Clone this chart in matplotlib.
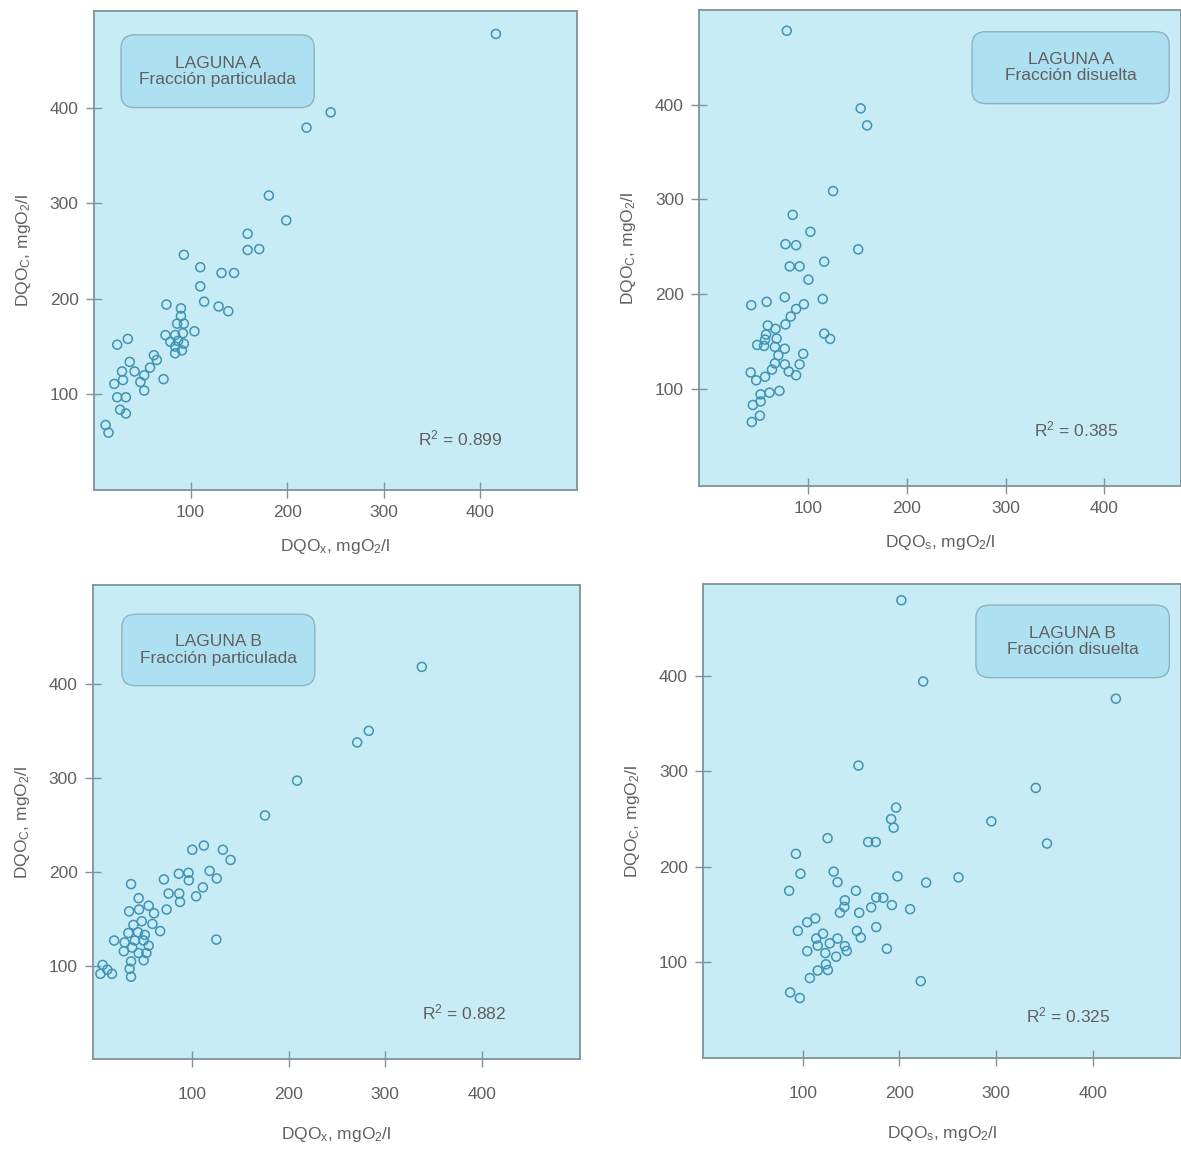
import matplotlib
matplotlib.use("Agg")
import matplotlib.pyplot as plt
from matplotlib.patches import FancyBboxPatch

plt.rcParams['font.family'] = ['Liberation Sans', 'DejaVu Sans']
plt.rcParams['mathtext.fontset'] = 'custom'
plt.rcParams['mathtext.rm'] = 'Liberation Sans'
plt.rcParams['mathtext.it'] = 'Liberation Sans'

# Laguna A - particulada (DQOx vs DQOc)
a_part_x = [416, 245, 220, 181, 199, 159, 159, 171, 93, 110, 132, 145, 110, 114, 129, 139,
            75, 90, 90, 86, 93, 74, 84, 92, 104, 79, 87, 93, 84, 91, 84,
            24, 35, 62, 65, 37, 29, 42, 52, 58, 48, 52, 72, 21, 30, 24, 33, 27, 33, 12, 15]
a_part_y = [477, 395, 379, 308, 282, 268, 251, 252, 246, 233, 227, 227, 213, 197, 192, 187,
            194, 190, 182, 174, 174, 162, 162, 164, 166, 155, 156, 153, 150, 146, 143,
            152, 158, 141, 136, 134, 124, 124, 120, 128, 113, 104, 116, 111, 115, 97, 97, 84, 80, 68, 60]

# Laguna A - disuelta (DQOs vs DQOc)
a_dis_x = [78, 153, 159.5, 125, 84, 102, 76.7, 87.5, 150.5, 116, 81, 91, 100, 76, 114.5,
           42, 57.6, 95.4, 87.5, 82, 76.7, 58.7, 66.6, 116, 122, 57, 56, 67.7, 48, 55, 66, 76,
           69.5, 94.7, 66, 76, 91, 63, 80, 87.5, 41.4, 47, 56, 51.5, 60.5, 70.6, 43.6, 51.5,
           50.8, 42.5]
a_dis_y = [478, 396, 378, 308.6, 283.5, 265.6, 252.5, 251.4, 247, 234, 229, 229, 215, 196.5, 194.6,
           188, 191.6, 189, 184, 176, 167.7, 166.6, 163, 158, 152.4, 157, 151.7, 152.8, 146, 145, 144, 142,
           135, 136.7, 126.6, 125.5, 125.5, 120, 118, 114, 117, 108.7, 112.4, 93.8, 95.6, 97.5, 82.6, 86.3,
           71.3, 64.6]

# Laguna B - particulada
b_part_x = [338, 283, 271, 208.7, 175.4, 112, 100, 131.7, 139.7, 118, 125.4, 70.6, 86, 96, 96.4,
            111, 104, 75.4, 86.5, 87.3, 73.4, 36.5, 44.4, 44.8, 34.5, 54.8, 60.3, 47.6, 39, 58.7,
            66.7, 33.7, 43.7, 50.8, 19, 29.8, 40.5, 49.6, 54.8, 37.7, 29, 44.4, 52.4, 36.5, 49.6,
            125, 35, 36.5, 7, 11.9, 4.8, 16.7]
b_part_y = [418, 350, 337.6, 297, 260, 228, 223.5, 223.5, 212.7, 201, 193, 192, 198, 199, 191,
            183.5, 174, 177, 177, 168, 160, 187, 172, 160, 158, 164, 156, 147.5, 143.6, 144.7,
            137, 135, 135.8, 133, 127, 125, 127, 127, 121.5, 119.5, 115.6, 113.7, 113.7, 104.8, 106,
            128, 97, 88.5, 101, 96, 91.6, 91.6]

# Laguna B - disuelta
b_dis_x = [202, 224.5, 423.7, 157.6, 340.9, 196.5, 191.4, 194, 295, 352.5, 125.7, 167.7, 175.5,
           93, 97.7, 86, 132, 136, 198, 227.6, 261, 155, 143.6, 143, 138.5, 158.4, 170.8, 176,
           183.3, 192.2, 211, 113, 104.7, 95, 176, 156, 160, 121, 114, 136, 128, 143.6, 115.5,
           104.7, 123.4, 134.6, 145.5, 187, 124, 126, 115.5, 107.4, 222, 87, 97]
b_dis_y = [479, 394, 376, 306, 282.6, 262, 250, 241, 247.6, 224.4, 230, 226, 226,
           213.6, 192.8, 175, 195, 184, 190, 183.5, 189, 175, 165, 158, 152, 152, 157.6, 168,
           167.6, 160, 155.7, 146, 142, 133, 137, 133, 126, 130, 125, 125, 120, 117, 117.6,
           111.8, 109.8, 106, 112, 114.3, 98, 92, 91.5, 83.6, 80.4, 68.6, 62.7]

xlabels = [r"DQO$_\mathrm{x}$, mgO$_\mathrm{2}$/l", r"DQO$_\mathrm{s}$, mgO$_\mathrm{2}$/l"]
ylabel = r"DQO$_\mathrm{C}$, mgO$_\mathrm{2}$/l"

BG = "#c8ecf6"
EDGE = "#7f9399"
MARK = "#3f93b3"
TXT = "#606060"

fig = plt.figure(figsize=(11.81, 11.56), dpi=100)

panels = [
    # rect, x, y, xlim, ylim, xlabel, title, box center, r2 text/pos, x tick pad, xlabel pad
    ([0.0796, 0.5761, 0.4090, 0.4144], a_part_x, a_part_y, (0, 500), (0, 501), xlabels[0],
     "LAGUNA A\nFracción particulada", (128, 438), "R$^2$ = 0.899", (379, 54), 5, 12),
    ([0.5919, 0.5796, 0.4081, 0.4118], a_dis_x, a_dis_y, (-11, 478), (-3, 500), xlabels[1],
     "LAGUNA A\nFracción disuelta", (366, 439), "R$^2$ = 0.385", (372, 57), 5, 12),
    ([0.0787, 0.0839, 0.4124, 0.4100], b_part_x, b_part_y, (-3, 502), (1, 505), xlabels[0],
     "LAGUNA B\nFracción particulada", (127, 436), "R$^2$ = 0.882", (382, 50), 14, 17),
    ([0.5953, 0.0848, 0.4047, 0.4100], b_dis_x, b_dis_y, (-3, 491), (0, 496), xlabels[1],
     "LAGUNA B\nFracción disuelta", (379, 436), "R$^2$ = 0.325", (374, 44), 14, 17),
]

for rect, xs, ys, xl, yl, xlab, title, bc, r2, r2pos, xpad, xlpad in panels:
    ax = fig.add_axes(rect)
    ax.set_facecolor(BG)
    ax.scatter(xs, ys, s=42, facecolors='none', edgecolors=MARK, linewidths=1.1, zorder=3)
    ax.set_xlim(*xl)
    ax.set_ylim(*yl)
    ax.set_xticks([100, 200, 300, 400])
    ax.set_yticks([100, 200, 300, 400])
    ax.tick_params(direction='inout', length=12, width=1, colors=EDGE,
                   labelcolor=TXT, labelsize=12.5, pad=5)
    ax.tick_params(axis='x', pad=xpad)
    for sp in ax.spines.values():
        sp.set_color(EDGE)
        sp.set_linewidth(1.3)
    ax.set_xlabel(xlab, color=TXT, fontsize=12.5, labelpad=xlpad)
    ax.set_ylabel(ylabel, color=TXT, fontsize=12.5, labelpad=12)
    # rounded title box
    box = FancyBboxPatch((bc[0] - 100, bc[1] - 38), 200, 76,
                         boxstyle="round,pad=0,rounding_size=14",
                         facecolor="#ade0f0", edgecolor="#8fb3be", linewidth=1, zorder=2)
    ax.add_patch(box)
    ax.text(bc[0], bc[1], title, ha='center', va='center', fontsize=12.5,
            color=TXT, linespacing=1.1, zorder=4)
    ax.text(r2pos[0], r2pos[1], r2, ha='center', va='center', fontsize=12.5, color=TXT)

fig.savefig("out.png", dpi=100, facecolor='white')
